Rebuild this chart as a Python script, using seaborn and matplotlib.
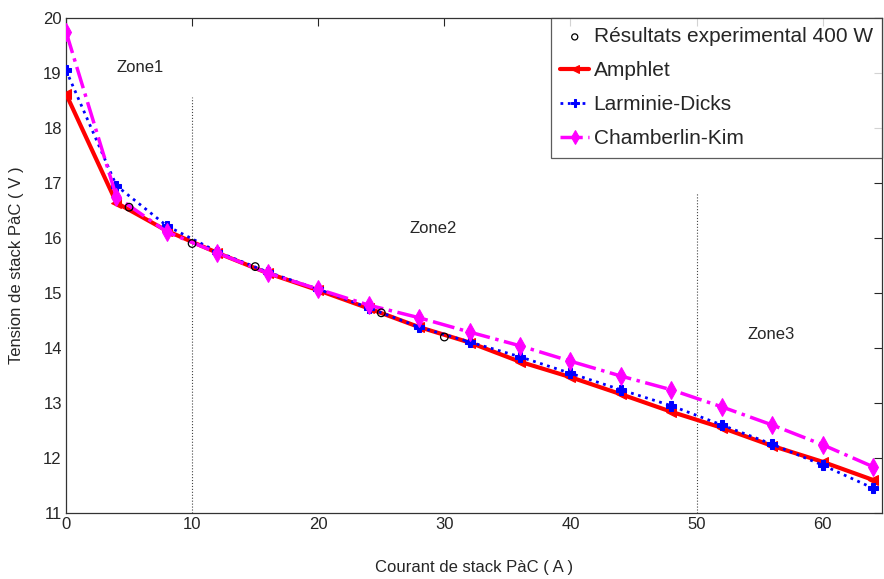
import matplotlib
matplotlib.use("Agg")
import matplotlib.pyplot as plt
import seaborn as sns
import pandas as pd

sns.set_style("white")
plt.rcParams['font.family'] = ['Liberation Sans Narrow', 'Liberation Sans', 'DejaVu Sans']

current = [0, 4, 8, 12, 16, 20, 24, 28, 32, 36, 40, 44, 48, 52, 56, 60, 64]
amphlet = [18.62, 16.64, 16.13, 15.73, 15.36, 15.05, 14.72, 14.38, 14.10, 13.75, 13.47, 13.16, 12.84, 12.55, 12.22, 11.93, 11.60]
larminie = [19.05, 16.95, 16.22, 15.75, 15.38, 15.07, 14.73, 14.38, 14.11, 13.84, 13.54, 13.24, 12.95, 12.60, 12.25, 11.87, 11.45]
chamberlin = [19.75, 16.75, 16.11, 15.73, 15.36, 15.07, 14.78, 14.55, 14.29, 14.04, 13.76, 13.49, 13.24, 12.93, 12.60, 12.24, 11.84]

exp_current = [5, 10, 15, 25, 30]
exp_voltage = [16.56, 15.90, 15.48, 14.64, 14.20]

zone_labels = ["Zone1", "Zone2", "Zone3"]
zone_pos = [(5.9, 19.1), (29.1, 16.18), (55.9, 14.25)]
zone_lines = [(10, 18.56), (50, 16.82)]

fig = plt.figure(figsize=(8.84, 5.79), dpi=100)
ax = fig.add_axes([66/884, 1 - 513/579, (882-66)/884, (513-18)/579])

df = pd.DataFrame({"I": current, "Amphlet": amphlet, "Larminie": larminie, "Chamberlin": chamberlin})
dexp = pd.DataFrame({"I": exp_current, "V": exp_voltage})

for xv, ytop in zone_lines:
    ax.plot([xv, xv], [11, ytop], color='#444444', linestyle=':', linewidth=0.8, zorder=1)

sns.scatterplot(data=dexp, x="I", y="V", ax=ax, marker='o', s=30, facecolor='none',
                edgecolor='black', linewidth=0.9, label='Résultats experimental 400 W', zorder=5)
sns.lineplot(data=df, x="I", y="Amphlet", ax=ax, color='red', linewidth=3, marker='<',
             markersize=7, markeredgecolor='red', label='Amphlet', zorder=3)
sns.lineplot(data=df, x="I", y="Larminie", ax=ax, color='blue', linewidth=2, linestyle=':',
             marker='P', markersize=7, markeredgecolor='blue', label='Larminie-Dicks', zorder=4)
sns.lineplot(data=df, x="I", y="Chamberlin", ax=ax, color='magenta', linewidth=2.5,
             linestyle='-.', marker='d', markersize=9, markeredgecolor='magenta',
             label='Chamberlin-Kim', zorder=4)

for lab, (xx, yy) in zip(zone_labels, zone_pos):
    ax.text(xx, yy, lab, fontsize=12, ha='center', va='center', family=['Liberation Sans', 'DejaVu Sans'])

ax.set_xlim(0, 64.7)
ax.set_ylim(11, 20)
ax.set_xticks([0, 10, 20, 30, 40, 50, 60])
ax.set_yticks([11, 12, 13, 14, 15, 16, 17, 18, 19, 20])
ax.tick_params(direction='in', length=6, width=0.8, top=True, right=True, labelsize=12, pad=3)
for s in ax.spines.values():
    s.set_linewidth(0.9)
    s.set_color('#333333')
ax.set_xlabel("Courant de stack PàC ( A )", fontsize=12, labelpad=20, family=['Liberation Sans', 'DejaVu Sans'])
ax.set_ylabel("Tension de stack PàC ( V )", fontsize=12, labelpad=14, family=['Liberation Sans', 'DejaVu Sans'])

leg = ax.legend(loc='upper right', bbox_to_anchor=(1.0, 1.0), frameon=True, fancybox=False,
                borderaxespad=0, handlelength=1.4, handletextpad=0.2, borderpad=0.45,
                labelspacing=0.72, markerscale=0.8,
                prop={'family': ['Liberation Sans', 'DejaVu Sans'], 'size': 15})
leg.get_frame().set_edgecolor('#333333')
leg.get_frame().set_linewidth(0.9)

fig.savefig("out.png", dpi=100)
